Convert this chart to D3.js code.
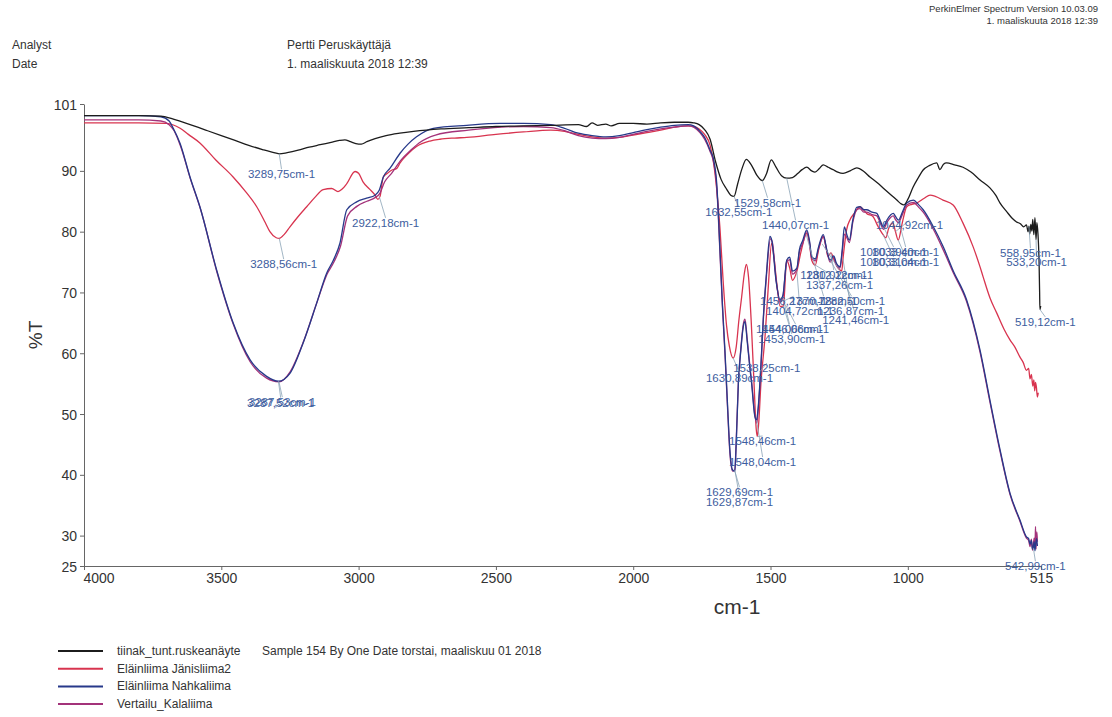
<!DOCTYPE html>
<html>
<head>
<meta charset="utf-8">
<script src="https://cdn.jsdelivr.net/npm/d3@7"></script>
<style>
  body { margin: 0; background: #fff; }
  text { font-family: "Liberation Sans", Arial, sans-serif; }
</style>
</head>
<body>
<svg id="chart" width="1112" height="717"></svg>
<script>
// ---- Spectrum data (wavenumber in cm-1, transmittance in %T) ----
const blackWn = [4000,3800,3720,3680,3640,3600,3550,3500,3450,3400,3350,3300,3289,3260,3220,3180,3140,3100,3070,3050,3030,3010,2990,2970,2940,2900,2850,2800,2700,2600,2500,2400,2300,2200,2170,2150,2130,2100,2080,2050,2000,1950,1900,1850,1800,1780,1760,1740,1720,1700,1680,1660,1645,1633,1620,1605,1588,1570,1550,1530,1515,1497,1480,1460,1441,1420,1400,1385,1368,1350,1338,1322,1308,1290,1272,1255,1236,1210,1186,1160,1138,1110,1090,1060,1040,1025,1015,1000,981,960,945,920,895,883,870,859,830,799,770,737,701,680,664,640,620,604,590,578,568,562,559,556,552,548,545,541,537,533,530,526,522,520,519,516];
const blackT  = [99.1,99.1,99.0,98.6,98.0,97.4,96.6,95.8,95.0,94.2,93.5,92.9,92.8,93.0,93.4,93.9,94.3,94.7,95.0,95.1,94.8,94.5,94.4,94.8,95.3,95.8,96.2,96.5,96.9,97.1,97.3,97.4,97.5,97.6,97.3,97.9,97.5,97.7,97.4,97.8,97.8,97.7,97.9,98.0,98.0,97.9,97.6,96.8,95.2,91.5,88.6,87.0,86.0,85.8,87.8,90.2,91.9,91.0,89.3,88.4,89.5,91.8,90.6,89.2,88.8,88.9,89.6,90.2,90.6,90.0,89.8,90.4,91.0,90.6,90.2,89.8,89.6,90.0,90.5,89.9,89.0,88.0,87.2,86.0,85.2,84.6,84.4,85.3,87.3,89.0,90.1,90.9,91.3,90.2,91.1,91.3,91.0,90.6,89.8,88.5,87.2,86.0,84.7,83.3,82.2,81.6,81.3,80.8,81.1,80.0,80.9,79.6,81.2,80.1,82.0,79.5,82.3,78.7,81.5,79.6,75.0,70.0,67.2,67.8];

const redWn = [4000,3800,3700,3650,3620,3578,3520,3457,3410,3371,3340,3323,3300,3289,3270,3250,3220,3189,3160,3129,3098,3075,3060,3043,3013,3000,2984,2960,2940,2930,2922,2910,2895,2880,2861,2849,2820,2789,2740,2704,2650,2606,2500,2400,2300,2250,2200,2150,2100,2050,2000,1950,1900,1850,1800,1780,1760,1740,1720,1708,1696,1684,1672,1660,1650,1636,1625,1615,1605,1595,1588,1580,1570,1560,1552,1548,1543,1535,1520,1508,1496,1488,1476,1465,1453,1441,1430,1420,1404,1390,1368,1358,1350,1337,1325,1308,1298,1291,1280,1270,1258,1247,1241,1235,1223,1210,1195,1174,1160,1150,1127,1110,1090,1080,1070,1054,1045,1035,1020,1004,985,968,940,919,900,872,835,799,762,737,726,700,676,650,628,610,592,580,568,560,555,550,545,541,538,535,532,528,525];
const redT  = [97.9,97.9,97.8,97.0,96.0,94.6,91.8,89.0,86.5,84.1,81.5,80.0,79.0,78.9,79.6,80.8,82.5,84.1,85.6,86.9,87.1,86.6,87.0,87.9,89.9,89.6,88.2,87.0,86.0,85.3,85.8,89.0,89.6,90.1,90.4,91.3,92.8,94.0,94.9,95.2,95.4,95.5,96.0,96.4,96.7,96.5,96.0,95.6,95.4,95.5,95.9,96.3,96.7,97.2,97.4,97.3,96.9,96.0,94.2,91.5,87.0,80.5,71.5,64.5,61.2,59.2,61.0,65.5,69.3,73.2,74.6,72.5,65.0,55.0,47.5,46.3,48.5,55.0,62.7,71.0,78.1,76.0,71.0,67.7,67.8,75.3,74.0,72.0,73.5,76.5,79.7,78.0,75.3,74.5,77.0,79.2,77.5,75.9,76.5,75.5,74.3,73.7,73.5,76.0,80.3,82.0,83.0,84.1,83.5,83.0,82.5,81.0,79.5,79.0,80.5,81.4,80.0,78.6,81.5,84.1,84.5,84.7,85.5,86.0,85.8,85.2,84.4,81.4,77.5,74.2,72.6,69.0,66.6,64.0,62.2,61.0,59.4,58.5,57.2,57.5,55.8,56.5,54.6,55.6,53.8,55.2,54.5,52.8,53.5];

const blueWn = [4000,3800,3720,3690,3675,3650,3614,3578,3517,3457,3395,3335,3292,3250,3202,3153,3116,3092,3068,3043,3007,2971,2940,2925,2910,2886,2849,2820,2789,2728,2606,2485,2400,2300,2250,2200,2150,2100,2050,2000,1950,1900,1850,1800,1780,1757,1740,1720,1708,1696,1684,1675,1666,1657,1648,1638,1630,1625,1617,1608,1599,1593,1585,1575,1569,1557,1551,1545,1535,1526,1515,1502,1495,1480,1465,1455,1441,1430,1420,1404,1395,1383,1368,1358,1350,1337,1325,1308,1295,1283,1270,1260,1247,1239,1231,1222,1213,1200,1186,1174,1160,1150,1130,1113,1100,1089,1075,1053,1045,1034,1020,1004,980,960,944,907,871,834,786,737,701,664,628,592,568,560,555,550,546,543,540,537,534,531,528];
const blueT  = [99.1,99.1,98.9,98.2,97.0,94.5,89.0,84.1,73.7,65.0,58.9,56.2,55.4,56.7,61.7,68.2,73.2,75.3,78.1,83.6,84.9,85.5,86.0,86.8,89.0,90.4,92.9,94.4,95.6,97.0,97.5,97.8,97.8,97.6,97.0,96.2,95.8,95.6,95.8,96.3,96.8,97.2,97.5,97.6,97.4,96.5,95.5,93.4,92.0,88.0,77.0,68.0,60.5,52.0,44.1,40.8,40.6,45.0,55.1,60.5,64.4,65.2,62.0,57.5,55.1,49.6,49.0,51.0,58.0,66.0,73.0,79.2,78.5,72.0,68.8,69.5,75.3,75.8,73.5,74.0,77.0,78.5,80.3,78.5,75.9,75.5,77.5,79.5,77.0,75.3,76.0,74.8,74.2,77.0,80.8,79.5,78.6,82.0,84.0,84.1,83.6,83.6,83.2,83.0,81.8,80.8,82.0,83.0,82.5,81.9,83.2,84.7,85.2,84.4,83.6,80.8,77.5,73.5,68.8,60.5,52.3,44.1,37.0,32.6,29.8,29.5,28.6,29.2,27.8,28.0,29.0,27.5,28.8,29.5,28.3];

const purpleWn = [4000,3800,3720,3690,3672,3648,3612,3575,3515,3455,3395,3335,3290,3250,3200,3150,3115,3090,3066,3040,3005,2970,2940,2924,2905,2880,2845,2810,2780,2720,2600,2480,2400,2300,2250,2200,2150,2100,2050,2000,1950,1900,1850,1800,1780,1757,1740,1720,1708,1696,1684,1675,1666,1657,1648,1638,1630,1625,1617,1608,1599,1593,1585,1575,1569,1557,1550,1545,1535,1526,1515,1500,1493,1480,1465,1455,1441,1430,1420,1404,1395,1383,1368,1358,1350,1337,1325,1308,1295,1283,1270,1260,1247,1239,1231,1222,1213,1200,1186,1174,1160,1150,1130,1113,1100,1089,1075,1053,1045,1034,1020,1004,980,960,944,907,871,834,786,737,701,664,628,592,568,560,555,550,546,543,540,537,535,533,530,528];
const purpleT  = [98.4,98.4,98.2,97.6,96.6,94.0,88.6,83.6,73.2,64.6,58.6,55.9,55.3,56.9,62.0,68.6,73.0,75.0,77.6,82.6,84.2,85.0,85.6,86.2,88.2,89.6,91.8,93.4,94.6,95.9,96.7,97.2,97.3,97.1,96.6,95.8,95.4,95.3,95.5,96.0,96.5,96.9,97.2,97.4,97.2,96.3,95.2,93.2,91.6,87.4,76.4,67.5,60.0,51.5,43.6,40.6,40.8,45.5,55.4,60.8,64.8,65.6,62.4,57.8,55.4,49.8,48.5,50.6,57.6,65.6,72.6,78.8,78.2,72.2,68.4,69.2,75.0,75.4,73.0,73.8,76.6,78.0,80.0,78.2,75.6,75.2,77.2,79.2,76.8,75.0,75.8,74.5,74.0,76.5,79.6,79.0,78.2,81.6,83.6,83.8,83.2,83.2,82.8,82.6,81.4,80.4,81.6,82.6,82.0,81.5,82.8,84.4,84.8,84.0,83.2,80.4,77.0,73.2,68.5,60.2,52.0,43.8,36.8,32.4,29.6,29.2,28.2,29.4,27.6,28.4,29.6,28.0,31.5,27.8,30.6,29.0];

// ---- Axis ticks ----
const xTicks = [4000, 3500, 3000, 2500, 2000, 1500, 1000, 515];
const yTicks = [101, 90, 80, 70, 60, 50, 40, 30, 25];

// ---- Legend entries ----
const seriesNames = ["tiinak_tunt.ruskeanäyte", "Eläinliima Jänisliima2", "Eläinliima Nahkaliima", "Vertailu_Kalaliima"];
const seriesColors = ["#1c1c1c", "#d8344f", "#27398a", "#a3327a"];

// ---- Peak labels: text, peak wavenumber, peak %T, label wavenumber, label %T ----
const peakText  = ["3289,75cm-1","3288,56cm-1","3287,52cm-1","3287,53cm-1","2922,18cm-1","1632,55cm-1","1529,58cm-1","1440,07cm-1","1044,92cm-1","1080,39cm-1","1033,40cm-1","1080,31cm-1","1033,04cm-1","1280,02cm-1","1312,12cm-1","1337,26cm-1","1456,27cm-1","1370,78cm-1","1282,50cm-1","1404,72cm-1","1236,87cm-1","1241,46cm-1","1454,06cm-1","1446,06cm-1","1453,90cm-1","1538,25cm-1","1630,89cm-1","1548,46cm-1","1548,04cm-1","1629,69cm-1","1629,87cm-1","558,95cm-1","533,20cm-1","519,12cm-1","542,99cm-1"];
const peakWn    = [3289,3289,3292,3290,2925,1633,1530,1441,1045,1089,1034,1090,1035,1280,1312,1337,1456,1370,1283,1404,1236,1241,1454,1446,1453,1538,1636,1548,1551,1630,1630,559,533,519,543];
const peakT     = [92.8,78.9,55.4,55.3,85.8,85.8,88.4,88.8,80.0,80.8,81.9,79.5,78.6,76.5,78.0,74.5,68.5,79.5,75.3,73.5,75.5,73.5,69.0,68.0,67.8,57.0,59.2,46.3,49.0,40.6,40.8,80.9,78.7,67.2,28.0];
const labelWn   = [3403,3395,3406,3400,3024,1738,1633,1531,1116,1174,1130,1174,1130,1392,1371,1371,1538,1429,1327,1516,1331,1312,1553,1531,1545,1636,1735,1651,1651,1735,1735,664,642,610,646];
const labelT    = [88.8,74.0,51.2,51.3,80.8,82.6,84.1,80.4,80.4,76.0,76.0,74.35,74.35,72.2,72.2,70.6,67.9,67.9,67.9,66.3,66.3,64.8,63.3,63.3,61.7,56.9,55.3,44.9,41.45,36.5,34.9,75.8,74.35,64.5,24.3];

const svg = d3.select("#chart");
svg.append("rect").attr("width", 1112).attr("height", 717).attr("fill", "#fff");

const x = d3.scaleLinear().domain([4000, 515]).range([84, 1041]);
const y = d3.scaleLinear().domain([25, 101]).range([566, 104]);

// ---- Header ----
const hdr = svg.append("g").attr("fill", "#333");
hdr.append("text").attr("x", 1098).attr("y", 12).attr("text-anchor", "end").attr("font-size", 9.5).text("PerkinElmer Spectrum Version 10.03.09");
hdr.append("text").attr("x", 1098).attr("y", 24).attr("text-anchor", "end").attr("font-size", 9.5).text("1. maaliskuuta 2018 12:39");
hdr.append("text").attr("x", 12).attr("y", 49).attr("font-size", 12).text("Analyst");
hdr.append("text").attr("x", 12).attr("y", 68).attr("font-size", 12).text("Date");
hdr.append("text").attr("x", 287).attr("y", 49).attr("font-size", 12).text("Pertti Peruskäyttäjä");
hdr.append("text").attr("x", 287).attr("y", 68).attr("font-size", 12).text("1. maaliskuuta 2018 12:39");

// ---- Axes ----
const xAxis = svg.append("g").attr("transform", "translate(0,566)")
  .call(d3.axisBottom(x).tickValues(xTicks).tickSize(4).tickSizeOuter(0).tickFormat(d => d));
const yAxis = svg.append("g").attr("transform", "translate(84,0)")
  .call(d3.axisLeft(y).tickValues(yTicks).tickSize(4).tickSizeOuter(0).tickFormat(d => d));
[xAxis, yAxis].forEach(g => {
  g.select(".domain").attr("stroke", "#666");
  g.selectAll(".tick line").attr("stroke", "#666");
  g.selectAll(".tick text").attr("fill", "#333").attr("font-size", 14)
    .attr("font-family", "'Liberation Sans', Arial, sans-serif");
});
yAxis.selectAll(".tick text").attr("dy", "0.36em");
// first wavenumber label sits to the right of the axis origin
xAxis.selectAll(".tick text").filter(d => d === 4000).attr("text-anchor", "start").attr("x", -1);

svg.append("text").attr("x", 737).attr("y", 614).attr("text-anchor", "middle")
  .attr("font-size", 21).attr("fill", "#333").text("cm-1");
svg.append("text").attr("transform", "translate(42,335) rotate(-90)").attr("text-anchor", "middle")
  .attr("font-size", 19).attr("fill", "#333").text("%T");

// ---- Spectra ----
const line = d3.line().x(d => x(d[0])).y(d => y(d[1])).curve(d3.curveMonotoneX);
const series = [
  { wn: redWn, t: redT, c: seriesColors[1] },
  { wn: purpleWn, t: purpleT, c: seriesColors[3] },
  { wn: blueWn, t: blueT, c: seriesColors[2] },
  { wn: blackWn, t: blackT, c: seriesColors[0] }
];
series.forEach(s => {
  svg.append("path")
    .datum(s.wn.map((w, i) => [w, s.t[i]]))
    .attr("d", line).attr("fill", "none")
    .attr("stroke", s.c).attr("stroke-width", 1.3).attr("stroke-linejoin", "round");
});

// ---- Peak labels with leader lines ----
const ann = svg.append("g");
peakText.forEach((txt, i) => {
  const t = ann.append("text").attr("x", x(labelWn[i])).attr("y", y(labelT[i]))
    .attr("font-size", 11.5).attr("fill", "#3d5d9e").text(txt);
  const bb = t.node().getBBox();
  ann.insert("line", "text")
    .attr("x1", x(peakWn[i])).attr("y1", y(peakT[i]))
    .attr("x2", bb.x + bb.width * 0.5).attr("y2", bb.y + 1)
    .attr("stroke", "#8aa3b6").attr("stroke-width", 0.8);
});

// ---- Legend ----
const leg = svg.append("g");
seriesNames.forEach((name, i) => {
  const yy = 651 + i * 17.7;
  leg.append("line").attr("x1", 58).attr("x2", 103).attr("y1", yy).attr("y2", yy)
    .attr("stroke", seriesColors[i]).attr("stroke-width", 2);
  leg.append("text").attr("x", 117).attr("y", yy + 4).attr("font-size", 12).attr("fill", "#333").text(name);
});
leg.append("text").attr("x", 262).attr("y", 655).attr("font-size", 12).attr("fill", "#333")
  .text("Sample 154 By One Date torstai, maaliskuu 01 2018");
</script>
</body>
</html>
